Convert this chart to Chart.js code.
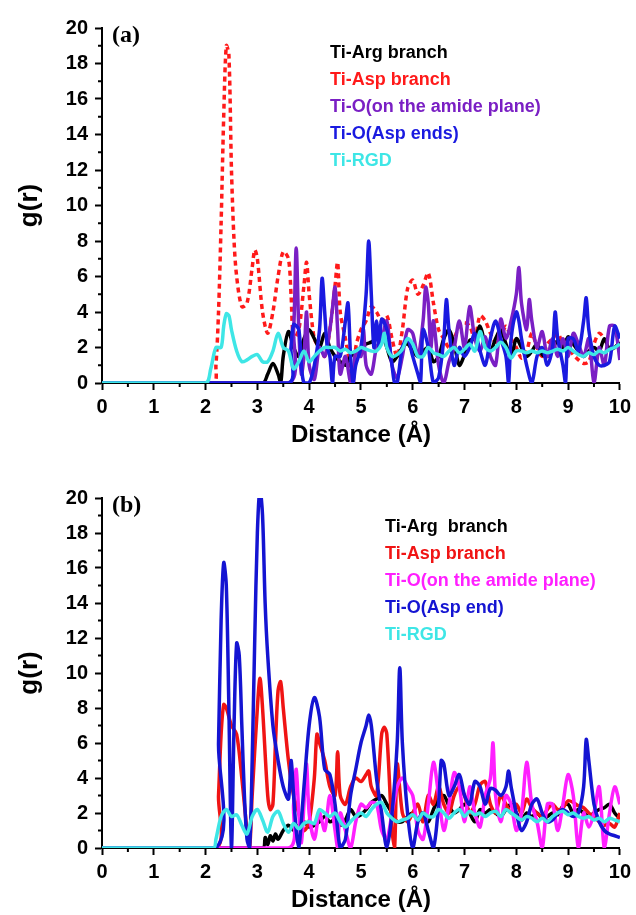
<!DOCTYPE html>
<html>
<head>
<meta charset="utf-8">
<script src="https://cdn.jsdelivr.net/npm/chart.js@4.4.1/dist/chart.umd.min.js"></script>
<style>
  html, body { margin: 0; padding: 0; background: #fff; }
  .panel { position: absolute; left: 0; width: 636px; height: 450px; }
  #panelA { top: 0; }
  #panelB { top: 465px; }
</style>
</head>
<body>
<div class="panel" id="panelA"><canvas id="chartA"></canvas></div>
<div class="panel" id="panelB"><canvas id="chartB"></canvas></div>
<script>
// tick positions
const xTickStep = 1;
const yTickStep = 2;
const minorX = [0.5, 1.5, 2.5, 3.5, 4.5, 5.5, 6.5, 7.5, 8.5, 9.5];
const minorY = [1, 3, 5, 7, 9, 11, 13, 15, 17, 19];

// ---- panel (a): [distance, g(r)] ----
const argA = [[0,0],[3.1,0],[3.2,0.5],[3.3,1.1],[3.4,0.5],[3.45,0],[3.5,1.5],[3.6,2.9],[3.7,2.0],[3.8,1.5],[3.9,2.5],[4.0,3.0],[4.1,2.5],[4.2,2.0],[4.3,2.8],[4.4,2.0],[4.5,1.5],[4.6,1.2],[4.7,1.0],[4.8,1.5],[4.9,1.8],[5.0,2.0],[5.1,2.2],[5.2,2.3],[5.3,2.5],[5.4,2.8],[5.5,2.0],[5.6,1.2],[5.7,1.5],[5.8,2.0],[5.9,2.2],[6.0,1.8],[6.1,1.5],[6.2,1.8],[6.3,2.0],[6.4,1.2],[6.5,1.5],[6.6,2.5],[6.7,3.0],[6.8,2.2],[6.9,1.0],[7.0,1.6],[7.1,2.4],[7.2,2.5],[7.3,3.2],[7.4,2.2],[7.5,1.8],[7.6,2.5],[7.7,3.0],[7.8,2.2],[7.9,1.5],[8.0,2.5],[8.1,2.0],[8.2,1.5],[8.3,1.8],[8.4,2.2],[8.5,1.6],[8.6,1.5],[8.7,1.9],[8.8,2.4],[8.9,2.0],[9.0,2.6],[9.1,2.2],[9.2,1.8],[9.3,1.5],[9.4,1.8],[9.5,2.0],[9.6,1.8],[9.7,2.5],[9.8,1.9],[9.9,2.0],[10,2.3]];
const aspA = [[0,0],[2.15,0],[2.2,1],[2.25,4],[2.3,9],[2.35,15],[2.4,19],[2.45,18.5],[2.5,12],[2.55,8],[2.6,6],[2.7,4.3],[2.8,4.5],[2.9,6.5],[2.95,7.5],[3.0,7],[3.1,4],[3.2,2.8],[3.3,4],[3.4,6],[3.5,7.4],[3.6,7],[3.65,5],[3.7,2.5],[3.8,3],[3.9,5.5],[3.95,6.8],[4.0,5],[4.1,2.5],[4.2,2],[4.3,1.5],[4.4,3],[4.5,5.5],[4.55,6.8],[4.6,4],[4.7,2.5],[4.8,0.8],[4.85,0],[4.9,2],[5.0,3],[5.1,3.5],[5.2,4.3],[5.3,4],[5.4,3.5],[5.5,3.8],[5.6,2.5],[5.7,1.5],[5.8,3],[5.9,5.3],[6.0,5.8],[6.1,5],[6.2,5.5],[6.3,6.2],[6.4,4.5],[6.5,3],[6.6,2.5],[6.7,2],[6.8,2.5],[6.9,3.2],[7.0,3.4],[7.1,3.2],[7.2,2.5],[7.3,3.8],[7.4,3.5],[7.5,2.8],[7.6,2.3],[7.7,2.6],[7.8,3.2],[7.9,2.5],[8.0,2.0],[8.1,1.4],[8.2,1.8],[8.3,2.8],[8.4,2.0],[8.5,1.5],[8.6,2.2],[8.7,2.5],[8.8,2.8],[8.9,2.2],[9.0,2.0],[9.1,1.6],[9.2,1.3],[9.3,1.1],[9.4,1.2],[9.5,2.2],[9.6,2.8],[9.7,2.5],[9.8,2.0],[9.9,2.2],[10,2.0]];
const amideA = [[0,0],[3.6,0],[3.7,3],[3.75,7.6],[3.8,3],[3.85,0.5],[3.9,1.5],[3.95,4],[4.0,1],[4.1,0.2],[4.2,2],[4.3,1.5],[4.4,3],[4.45,4.2],[4.5,5.4],[4.55,3],[4.6,0.5],[4.7,1.5],[4.8,0],[4.85,0],[4.9,1.8],[5.0,1.5],[5.05,3],[5.1,1],[5.2,0.5],[5.3,2],[5.4,2.5],[5.5,3.5],[5.6,1],[5.7,0.3],[5.8,1.5],[5.9,3],[6.0,2.8],[6.1,1.5],[6.2,3.5],[6.25,5.4],[6.3,4.5],[6.35,2],[6.4,3.5],[6.5,1],[6.6,0],[6.7,1.2],[6.8,2],[6.9,3.5],[7.0,2],[7.1,4.3],[7.2,2.5],[7.3,1.8],[7.4,2.6],[7.5,1.5],[7.6,1.0],[7.7,3.6],[7.8,2.5],[7.9,3.5],[8.0,5.0],[8.05,6.5],[8.1,4.5],[8.2,3.0],[8.25,4.7],[8.3,3.5],[8.4,2.0],[8.5,2.9],[8.6,1.5],[8.7,2.5],[8.8,1.5],[8.9,2.5],[9.0,1.5],[9.1,2.8],[9.2,2.2],[9.3,1.5],[9.4,2.5],[9.5,0],[9.6,2.0],[9.7,1.0],[9.8,3.2],[9.9,3.2],[10,1.3]];
const aspEndA = [[0,0],[3.6,0],[3.65,2],[3.7,3.3],[3.8,3],[3.85,1],[3.9,0],[4.0,0],[4.1,1],[4.2,3],[4.25,5.9],[4.3,4],[4.35,2],[4.4,1.5],[4.45,0],[4.5,1.5],[4.6,1.5],[4.7,3.5],[4.75,4.5],[4.8,1.5],[4.85,0],[4.9,1],[5.0,2],[5.1,5],[5.15,8],[5.2,5],[5.25,2],[5.3,3.5],[5.35,2],[5.4,3.6],[5.5,3],[5.6,1],[5.65,0],[5.7,0],[5.8,2],[5.9,2.5],[6.0,1.5],[6.1,0.5],[6.15,0],[6.2,3],[6.3,2],[6.4,0],[6.5,0.3],[6.6,2.5],[6.65,4.7],[6.7,3],[6.8,1],[6.9,2],[7.0,1.5],[7.1,2],[7.2,2.8],[7.3,1.8],[7.4,1],[7.5,2.5],[7.6,3.5],[7.7,2.5],[7.8,1.5],[7.85,0],[7.9,2.5],[8.0,4.0],[8.05,3.5],[8.1,2.5],[8.2,1],[8.3,0],[8.4,1.5],[8.5,2],[8.6,1],[8.7,2],[8.75,4],[8.8,2.5],[8.9,1],[8.95,0],[9.0,2.5],[9.1,2.5],[9.2,1.8],[9.3,3.5],[9.35,4.8],[9.4,3],[9.5,1.5],[9.6,1],[9.7,1],[9.8,1.2],[9.9,3.2],[10,2.5]];
const rgdA = [[0,0],[2.0,0],[2.1,0.8],[2.2,2.0],[2.3,2.0],[2.35,3.2],[2.4,3.9],[2.45,3.8],[2.5,3.0],[2.6,1.8],[2.7,1.2],[2.8,1.3],[2.9,1.5],[3.0,1.6],[3.1,1.2],[3.2,1.2],[3.3,1.8],[3.4,2.8],[3.5,2.0],[3.6,1.8],[3.7,0.8],[3.8,1.2],[3.9,1.8],[4.0,1.2],[4.1,1.5],[4.2,1.8],[4.3,2.0],[4.4,2.0],[4.5,2.0],[4.6,1.8],[4.7,1.9],[4.8,1.7],[4.9,1.8],[5.0,2.0],[5.1,1.9],[5.2,1.8],[5.3,1.8],[5.4,2.2],[5.45,2.8],[5.5,2.0],[5.6,1.5],[5.7,1.6],[5.8,1.9],[5.9,2.5],[6.0,2.2],[6.1,1.5],[6.2,1.5],[6.3,2.0],[6.4,1.7],[6.5,1.6],[6.6,1.5],[6.7,1.8],[6.8,2.0],[6.9,1.7],[7.0,1.9],[7.1,2.2],[7.2,1.8],[7.3,2.9],[7.4,2.0],[7.5,1.8],[7.6,2.0],[7.7,2.3],[7.8,2.0],[7.9,1.4],[8.0,1.8],[8.1,1.8],[8.2,1.7],[8.3,1.8],[8.4,1.7],[8.5,1.8],[8.6,1.7],[8.7,1.8],[8.8,1.9],[8.9,1.8],[9.0,2.0],[9.1,1.8],[9.2,1.6],[9.3,1.5],[9.4,1.7],[9.5,1.6],[9.6,1.8],[9.7,1.7],[9.8,1.9],[9.9,2.0],[10,2.2]];

// ---- panel (b) ----
const argB = [[0,0],[3.1,0],[3.15,0.6],[3.2,0.2],[3.25,0.7],[3.3,0.4],[3.35,0.8],[3.4,0.5],[3.5,1.0],[3.6,1.3],[3.7,1.0],[3.8,1.3],[3.9,1.5],[4.0,1.2],[4.1,1.3],[4.2,1.5],[4.3,1.8],[4.4,1.5],[4.5,1.6],[4.6,1.3],[4.7,1.6],[4.8,2.2],[4.9,1.8],[5.0,1.9],[5.1,2.2],[5.2,2.6],[5.3,2.8],[5.4,3.0],[5.5,2.5],[5.6,2.0],[5.7,1.5],[5.8,1.5],[5.9,1.8],[6.0,2.0],[6.1,1.6],[6.2,1.8],[6.3,1.5],[6.4,2.2],[6.5,2.8],[6.6,3.0],[6.7,2.4],[6.8,2.0],[6.9,2.2],[7.0,2.5],[7.1,2.0],[7.2,1.5],[7.3,2.2],[7.4,2.0],[7.5,2.2],[7.6,2.0],[7.7,1.8],[7.8,2.2],[7.9,2.5],[8.0,2.0],[8.1,1.6],[8.2,2.0],[8.3,1.8],[8.4,2.0],[8.5,1.7],[8.6,1.8],[8.7,2.0],[8.8,1.9],[8.9,2.4],[9.0,2.5],[9.1,2.0],[9.2,2.2],[9.3,2.0],[9.4,1.8],[9.5,2.0],[9.6,2.2],[9.7,2.3],[9.8,2.5],[9.9,2.0],[10,1.7]];
const aspB = [[0,0],[2.2,0],[2.25,3],[2.3,6.5],[2.35,8.2],[2.4,8],[2.5,7.0],[2.6,6.5],[2.7,4],[2.8,1],[2.85,0],[2.9,3],[3.0,8],[3.05,9.7],[3.1,8],[3.2,3],[3.25,2.2],[3.3,2.5],[3.35,6],[3.4,9.0],[3.45,9.5],[3.5,8],[3.6,5],[3.7,3],[3.8,2],[3.9,1],[4.0,1.5],[4.1,4],[4.15,6.5],[4.2,6],[4.3,5],[4.4,3.5],[4.5,3],[4.55,5.5],[4.6,3],[4.7,2.5],[4.8,3.5],[4.9,4],[5.0,3.8],[5.1,4.2],[5.15,4.4],[5.2,3.5],[5.3,3.0],[5.4,6.5],[5.45,6.9],[5.5,6.5],[5.6,1.0],[5.65,0],[5.7,4.8],[5.8,2.0],[5.9,1.5],[6.0,2.0],[6.1,2.5],[6.2,1.5],[6.3,3.0],[6.4,2.5],[6.5,3.5],[6.6,2.5],[6.7,2.0],[6.8,3.0],[6.9,3.5],[7.0,3.0],[7.1,2.0],[7.2,2.5],[7.3,3.6],[7.4,3.8],[7.5,2.5],[7.6,2.0],[7.7,3.0],[7.8,2.5],[7.9,2.0],[8.0,2.5],[8.1,2.0],[8.2,2.8],[8.3,2.3],[8.4,2.0],[8.5,1.8],[8.6,2.2],[8.7,2.5],[8.8,2.2],[8.9,2.3],[9.0,2.7],[9.1,2.6],[9.2,2.4],[9.3,2.3],[9.4,2.0],[9.5,1.8],[9.6,1.5],[9.7,1.3],[9.8,1.4],[9.9,1.2],[10,2.0]];
const amideB = [[0,0],[3.6,0],[3.7,2.5],[3.75,4.5],[3.8,2],[3.85,0.3],[3.9,2.5],[3.95,4.8],[4.0,2],[4.1,0.5],[4.2,2],[4.3,1],[4.4,3],[4.5,1],[4.55,0],[4.6,2],[4.7,1],[4.8,0],[4.9,1.5],[5.0,2.5],[5.1,2.3],[5.2,2.6],[5.3,2.5],[5.4,1],[5.5,0.5],[5.6,2],[5.7,3.5],[5.8,4],[5.9,3.5],[6.0,3],[6.1,1],[6.2,0.5],[6.3,2.5],[6.4,4.9],[6.5,3],[6.6,1],[6.7,2.5],[6.8,4.3],[6.9,3.5],[7.0,1.5],[7.1,3.5],[7.2,2],[7.3,1.2],[7.4,3],[7.5,4],[7.55,6],[7.6,3],[7.7,1.5],[7.8,3],[7.9,2.5],[8.0,1],[8.1,2],[8.2,4.9],[8.3,2.5],[8.4,1.5],[8.5,0],[8.6,2.5],[8.7,2.5],[8.8,1.0],[8.9,2.5],[9.0,4.2],[9.1,3],[9.2,0],[9.3,2],[9.4,1.2],[9.5,2],[9.6,3.5],[9.7,0],[9.8,2],[9.9,3.5],[10,2.5]];
const aspEndB = [[0,0],[2.2,0],[2.25,6],[2.3,13],[2.35,16.3],[2.4,15],[2.45,8],[2.5,0],[2.55,7],[2.6,11.7],[2.65,11],[2.7,7],[2.75,3],[2.8,0.5],[2.85,0],[2.9,5],[2.95,12],[3.0,18],[3.05,20.5],[3.1,19],[3.15,14],[3.2,11],[3.3,7],[3.4,5],[3.5,3.5],[3.6,2.8],[3.65,5],[3.7,3],[3.75,1],[3.8,0],[3.9,3.5],[4.0,7],[4.1,8.6],[4.2,7.5],[4.3,4.5],[4.4,4.2],[4.5,2.5],[4.6,0],[4.7,0.5],[4.8,3],[4.9,4.5],[5.0,6],[5.1,7],[5.15,7.6],[5.2,7.0],[5.3,4],[5.4,2],[5.5,0],[5.6,2],[5.7,6],[5.75,10.3],[5.8,6],[5.9,2],[6.0,0],[6.1,1.5],[6.2,2.0],[6.3,1.0],[6.4,0],[6.5,2.5],[6.55,5],[6.6,4.8],[6.7,3],[6.8,3.5],[6.9,4.2],[7.0,3],[7.1,2.5],[7.2,3.8],[7.3,3.5],[7.4,2.5],[7.5,3.4],[7.6,3.3],[7.7,3.0],[7.8,3.5],[7.85,4.4],[7.9,3.5],[8.0,2.0],[8.1,1.0],[8.2,1.5],[8.3,2.5],[8.4,2.8],[8.5,2.0],[8.6,1.5],[8.7,1.6],[8.8,2.0],[8.9,2.2],[9.0,2.0],[9.1,1.8],[9.2,2.0],[9.3,3.5],[9.35,6.2],[9.4,5.0],[9.5,2.5],[9.6,1.5],[9.7,1.0],[9.8,0.8],[9.9,0.7],[10,0.6]];
const rgdB = [[0,0],[2.15,0],[2.2,0.5],[2.3,1.8],[2.4,2.2],[2.5,1.8],[2.6,1.9],[2.7,1.3],[2.8,0.8],[2.9,1.8],[3.0,2.2],[3.1,1.6],[3.2,0.9],[3.3,1.8],[3.4,2.1],[3.5,1.4],[3.6,0.9],[3.7,1.4],[3.8,1.1],[3.9,1.4],[4.0,1.5],[4.1,1.4],[4.2,2.2],[4.3,2.0],[4.4,1.8],[4.5,2.0],[4.6,1.5],[4.7,1.2],[4.8,1.5],[4.9,1.8],[5.0,2.0],[5.1,1.8],[5.2,2.2],[5.3,2.5],[5.4,2.6],[5.5,2.0],[5.6,1.7],[5.7,1.5],[5.8,1.6],[5.9,1.7],[6.0,1.9],[6.1,1.6],[6.2,2.0],[6.3,1.8],[6.4,1.8],[6.5,2.2],[6.6,2.0],[6.7,1.7],[6.8,2.0],[6.9,2.2],[7.0,1.8],[7.1,2.1],[7.2,1.9],[7.3,2.0],[7.4,1.8],[7.5,2.0],[7.6,2.1],[7.7,1.8],[7.8,2.2],[7.9,2.0],[8.0,1.8],[8.1,1.6],[8.2,1.8],[8.3,1.7],[8.4,1.5],[8.5,1.7],[8.6,1.5],[8.7,1.8],[8.8,2.0],[8.9,2.1],[9.0,1.9],[9.1,2.0],[9.2,1.8],[9.3,1.7],[9.4,1.8],[9.5,1.6],[9.6,1.7],[9.7,1.5],[9.8,1.7],[9.9,1.6],[10,1.5]];

const labelsA = ['Ti-Arg branch', 'Ti-Asp branch', 'Ti-O(on the amide plane)', 'Ti-O(Asp ends)', 'Ti-RGD'];
const labelsB = ['Ti-Arg  branch', 'Ti-Asp branch', 'Ti-O(on the amide plane)', 'Ti-O(Asp end)', 'Ti-RGD'];

const toXY = (pts) => pts.map(p => ({ x: p[0], y: p[1] }));
const sans = '"Liberation Sans", Arial, sans-serif';

// draws minor ticks, the panel letter and the coloured text legend
const panelDecor = {
  id: 'panelDecor',
  afterDraw(chart, args, opts) {
    const ctx = chart.ctx;
    const xs = chart.scales.x, ys = chart.scales.y;
    ctx.save();
    ctx.strokeStyle = '#000';
    ctx.lineWidth = 2;
    ctx.beginPath();
    minorX.forEach(v => {
      const px = xs.getPixelForValue(v);
      ctx.moveTo(px, ys.bottom);
      ctx.lineTo(px, ys.bottom + 4);
    });
    minorY.forEach(v => {
      const py = ys.getPixelForValue(v);
      ctx.moveTo(xs.left, py);
      ctx.lineTo(xs.left - 4, py);
    });
    ctx.stroke();

    ctx.fillStyle = '#000';
    ctx.font = 'bold 24px "Liberation Serif", "Times New Roman", serif';
    ctx.textBaseline = 'middle';
    ctx.fillText(opts.letter, xs.left + 10, opts.letterY);

    ctx.font = 'bold 18px ' + sans;
    chart.data.datasets.forEach((ds, i) => {
      ctx.fillStyle = ds.borderColor;
      ctx.fillText(ds.label, opts.legendX, opts.legendY + i * opts.legendStep);
    });
    ctx.restore();
  }
};

function makeChart(id, series, labels, colors, dashed, orders, deco, topPad) {
  const datasets = series.map((s, i) => ({
    label: labels[i],
    data: toXY(s),
    borderColor: colors[i],
    borderWidth: 3.5,
    borderDash: dashed[i] ? [5, 4] : [],
    pointRadius: 0,
    tension: 0.3,
    order: orders[i],
    fill: false
  }));
  const tickFont = { family: sans, size: 20, weight: 'bold' };
  return new Chart(document.getElementById(id), {
    type: 'line',
    data: { datasets },
    options: {
      responsive: true,
      maintainAspectRatio: false,
      animation: false,
      layout: { padding: { top: topPad, right: 14, left: 0, bottom: 0 } },
      plugins: {
        legend: { display: false },
        tooltip: { enabled: false },
        panelDecor: deco
      },
      scales: {
        x: {
          type: 'linear',
          min: 0,
          max: 10,
          ticks: { stepSize: xTickStep, color: '#000', font: tickFont, padding: 5, maxRotation: 0 },
          grid: { drawOnChartArea: false, tickLength: 7, tickWidth: 2, tickColor: '#000' },
          border: { color: '#000', width: 2 },
          title: {
            display: true,
            text: 'Distance (Å)',
            color: '#000',
            font: { family: sans, size: 24, weight: 'bold' },
            padding: { top: 0, bottom: 0 }
          },
          afterFit: (s) => { s.height = 67; }
        },
        y: {
          min: 0,
          max: 20,
          ticks: { stepSize: yTickStep, color: '#000', font: tickFont, padding: 7 },
          grid: { drawOnChartArea: false, tickLength: 7, tickWidth: 2, tickColor: '#000' },
          border: { color: '#000', width: 2 },
          title: {
            display: true,
            text: 'g(r)',
            color: '#000',
            font: { family: sans, size: 26, weight: 'bold' },
            padding: { top: 14, bottom: 0 }
          },
          afterFit: (s) => { s.width = 102; }
        }
      }
    },
    plugins: [panelDecor]
  });
}

makeChart('chartA',
  [argA, aspA, amideA, aspEndA, rgdA], labelsA,
  ['#000000', '#ff1a1a', '#7a1fc4', '#1a1ae0', '#3ee6e6'],
  [false, true, false, false, false],
  [3, 4, 2, 1, 0],
  { letter: '(a)', letterY: 36, legendX: 330, legendY: 53, legendStep: 27 },
  28);

makeChart('chartB',
  [argB, aspB, amideB, aspEndB, rgdB], labelsB,
  ['#000000', '#f01414', '#ff1fff', '#1414d2', '#3ee6e6'],
  [false, false, false, false, false],
  [4, 3, 2, 1, 0],
  { letter: '(b)', letterY: 41, legendX: 385, legendY: 62, legendStep: 27 },
  33);
</script>
</body>
</html>
